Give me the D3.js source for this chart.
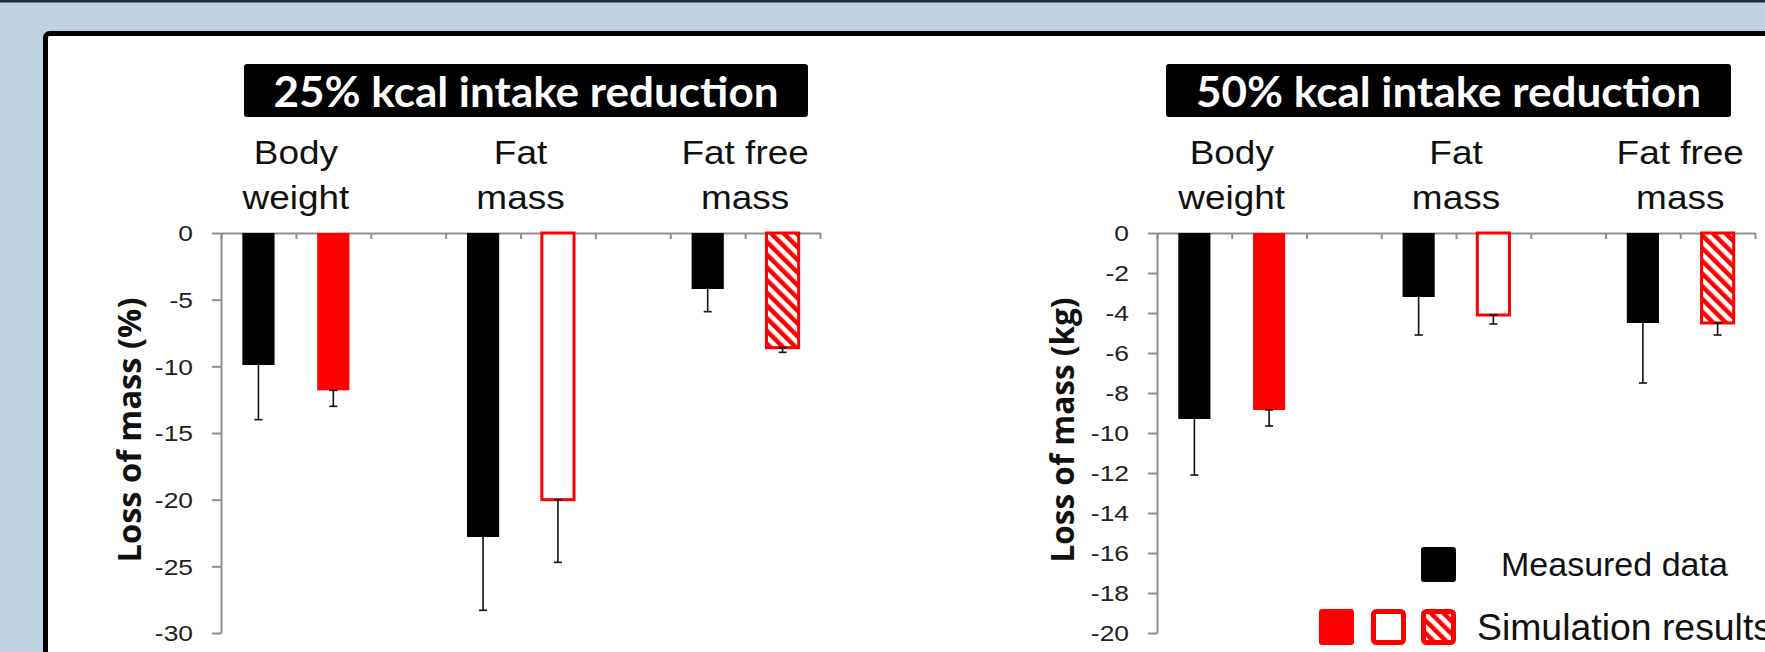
<!DOCTYPE html>
<html>
<head>
<meta charset="utf-8">
<script src="https://cdn.jsdelivr.net/npm/d3@7"></script>
<style>
  html, body { margin: 0; padding: 0; background: #bfd3e3; }
  svg { display: block; }
</style>
</head>
<body>
<svg id="chart" width="1765" height="652"></svg>
<script>
// ---- data ----
const categoryLines = [["Body", "weight"], ["Fat", "mass"], ["Fat free", "mass"]];
const panelTitles = ["25% kcal intake reduction", "50% kcal intake reduction"];
const yTitles = ["Loss of mass (%)", "Loss of mass (kg)"];

// 25% reduction (percent of mass lost)
const measured25 = [-9.9, -22.8, -4.2];
const measuredErr25 = [4.1, 5.5, 1.7];
const simulated25 = [-11.8, -20.0, -8.6];
const simulatedErr25 = [1.2, 4.7, 0.35];

// 50% reduction (kg lost)
const measured50 = [-9.3, -3.2, -4.5];
const measuredErr50 = [2.8, 1.9, 3.0];
const simulated50 = [-8.85, -4.1, -4.5];
const simulatedErr50 = [0.8, 0.45, 0.6];

const yTicks25 = [0, -5, -10, -15, -20, -25, -30];
const yTicks50 = [0, -2, -4, -6, -8, -10, -12, -14, -16, -18, -20];

const legendLabels = ["Measured data", "Simulation results"];

// ---- drawing ----
const svg = d3.select("#chart");
const RED = "#ff0000";
const AXIS = "#8f8f8f";

const defs = svg.append("defs");
const hatch = defs.append("pattern")
  .attr("id", "hatch")
  .attr("patternUnits", "userSpaceOnUse")
  .attr("width", 9).attr("height", 9)
  .attr("patternTransform", "rotate(-45)");
hatch.append("rect").attr("width", 9).attr("height", 9).attr("fill", "#fff");
hatch.append("rect").attr("width", 4.5).attr("height", 9).attr("fill", RED);

// page background and frame
svg.append("rect").attr("width", 1765).attr("height", 652).attr("fill", "#bfd3e3");
svg.append("rect").attr("width", 1765).attr("height", 2.5).attr("fill", "#1f2a33");
svg.append("rect")
  .attr("x", 45.5).attr("y", 33.5).attr("width", 1800).attr("height", 700)
  .attr("rx", 4)
  .attr("fill", "#fff").attr("stroke", "#000").attr("stroke-width", 5);

// simulation bar styles per category: solid, open, hatched
const simFill = [RED, "#fff", "url(#hatch)"];
const simStroke = [null, RED, RED];

const panels = [
  { x0: 221, x1: 820, domain: [-30, 0], ticks: yTicks25,
    meas: measured25, measErr: measuredErr25, sim: simulated25, simErr: simulatedErr25,
    title: panelTitles[0], box: [244, 808], yTitle: yTitles[0], yTitleX: 141 },
  { x0: 1157, x1: 1755, domain: [-20, 0], ticks: yTicks50,
    meas: measured50, measErr: measuredErr50, sim: simulated50, simErr: simulatedErr50,
    title: panelTitles[1], box: [1166, 1731], yTitle: yTitles[1], yTitleX: 1074 }
];

panels.forEach(p => {
  const g = svg.append("g");
  const y = d3.scaleLinear().domain(p.domain).range([633, 233]);
  const slot = d3.scaleLinear().domain([0, 8]).range([p.x0, p.x1]);
  const step = slot(1) - slot(0);
  const barW = step * 0.43;

  // title box
  g.append("rect")
    .attr("x", p.box[0]).attr("y", 64)
    .attr("width", p.box[1] - p.box[0]).attr("height", 53)
    .attr("rx", 3).attr("fill", "#000");
  g.append("text")
    .attr("x", (p.box[0] + p.box[1]) / 2).attr("y", 107)
    .attr("text-anchor", "middle")
    .attr("font-family", "Lato, 'Open Sans', sans-serif")
    .attr("font-weight", "bold").attr("font-size", 42)
    .attr("fill", "#fff")
    .attr("textLength", 505).attr("lengthAdjust", "spacingAndGlyphs")
    .text(p.title);

  // category labels
  categoryLines.forEach((lines, i) => {
    const cx = slot(3 * i + 1);
    lines.forEach((t, j) => {
      g.append("text")
        .attr("transform", `translate(${cx},${164 + j * 45}) scale(1.12,1)`)
        .attr("text-anchor", "middle")
        .attr("font-family", "'Liberation Sans', Arial, sans-serif")
        .attr("font-size", 33)
        .attr("fill", "#111")
        .text(t);
    });
  });

  // x axis along zero with boundary ticks
  const xAxis = g.append("g")
    .attr("transform", `translate(0,${y(0)})`)
    .call(d3.axisBottom(slot).tickValues(d3.range(9)).tickSize(6).tickSizeOuter(0).tickFormat(""));
  xAxis.selectAll("path, line").attr("stroke", AXIS).attr("stroke-width", 2);

  // y axis
  const yAxis = g.append("g")
    .attr("transform", `translate(${p.x0},0)`)
    .call(d3.axisLeft(y).tickValues(p.ticks).tickSize(9).tickSizeOuter(0).tickFormat(d => String(d)));
  yAxis.selectAll("path, line").attr("stroke", AXIS).attr("stroke-width", 2);
  yAxis.selectAll("text")
    .attr("x", null).attr("dy", "0.36em")
    .attr("transform", "translate(-28,0) scale(1.2,1)")
    .attr("font-family", "'Liberation Sans', Arial, sans-serif")
    .attr("font-size", 22)
    .attr("fill", "#222");

  // y axis title
  g.append("text")
    .attr("transform", `translate(${p.yTitleX},430) scale(1.25,1) rotate(-90)`)
    .attr("text-anchor", "middle")
    .attr("font-family", "'Open Sans', sans-serif")
    .attr("font-weight", "bold").attr("font-size", 25)
    .attr("fill", "#111")
    .attr("textLength", 265).attr("lengthAdjust", "spacingAndGlyphs")
    .text(p.yTitle);

  // bars
  const barData = [];
  p.meas.forEach((v, i) => barData.push({ v, err: p.measErr[i], slot: 3 * i, fill: "#000", stroke: null }));
  p.sim.forEach((v, i) => barData.push({ v, err: p.simErr[i], slot: 3 * i + 1, fill: simFill[i], stroke: simStroke[i] }));

  g.selectAll("rect.bar").data(barData).join("rect")
    .attr("class", "bar")
    .attr("x", d => slot(d.slot + 0.5) - barW / 2)
    .attr("y", d => y(0))
    .attr("width", barW)
    .attr("height", d => y(d.v) - y(0))
    .attr("fill", d => d.fill)
    .attr("stroke", d => d.stroke)
    .attr("stroke-width", d => d.stroke ? 3 : 0);

  // error bars
  const eb = g.selectAll("g.err").data(barData).join("g").attr("class", "err")
    .attr("stroke", "#111").attr("stroke-width", 1.6);
  eb.append("line")
    .attr("x1", d => slot(d.slot + 0.5)).attr("x2", d => slot(d.slot + 0.5))
    .attr("y1", d => y(d.v)).attr("y2", d => y(d.v - d.err));
  eb.append("line")
    .attr("x1", d => slot(d.slot + 0.5) - 4).attr("x2", d => slot(d.slot + 0.5) + 4)
    .attr("y1", d => y(d.v - d.err)).attr("y2", d => y(d.v - d.err));
  eb.filter(d => d.fill !== "#000").append("line")
    .attr("x1", d => slot(d.slot + 0.5) - 4).attr("x2", d => slot(d.slot + 0.5) + 4)
    .attr("y1", d => y(d.v)).attr("y2", d => y(d.v));
});

// legend
const lg = svg.append("g");
lg.append("rect").attr("x", 1421).attr("y", 547).attr("width", 35).attr("height", 35)
  .attr("rx", 3).attr("fill", "#000");
lg.append("text").attr("x", 1501).attr("y", 576)
  .attr("font-family", "'Liberation Sans', Arial, sans-serif").attr("font-size", 34)
  .attr("fill", "#111").text(legendLabels[0]);

const simKeys = [
  { x: 1319, fill: RED, stroke: null },
  { x: 1371, fill: "#fff", stroke: RED },
  { x: 1421, fill: "url(#hatch)", stroke: RED }
];
lg.selectAll("rect.sim").data(simKeys).join("rect")
  .attr("class", "sim")
  .attr("x", d => d.stroke ? d.x + 2.5 : d.x).attr("y", d => d.stroke ? 611.5 : 609)
  .attr("width", d => d.stroke ? 30 : 35).attr("height", d => d.stroke ? 31 : 36)
  .attr("rx", 3)
  .attr("fill", d => d.fill)
  .attr("stroke", d => d.stroke)
  .attr("stroke-width", d => d.stroke ? 5 : 0);
lg.append("text").attr("x", 1477).attr("y", 640)
  .attr("font-family", "'Liberation Sans', Arial, sans-serif").attr("font-size", 36)
  .attr("fill", "#111")
  .attr("textLength", 295).attr("lengthAdjust", "spacingAndGlyphs")
  .text(legendLabels[1]);
</script>
</body>
</html>
